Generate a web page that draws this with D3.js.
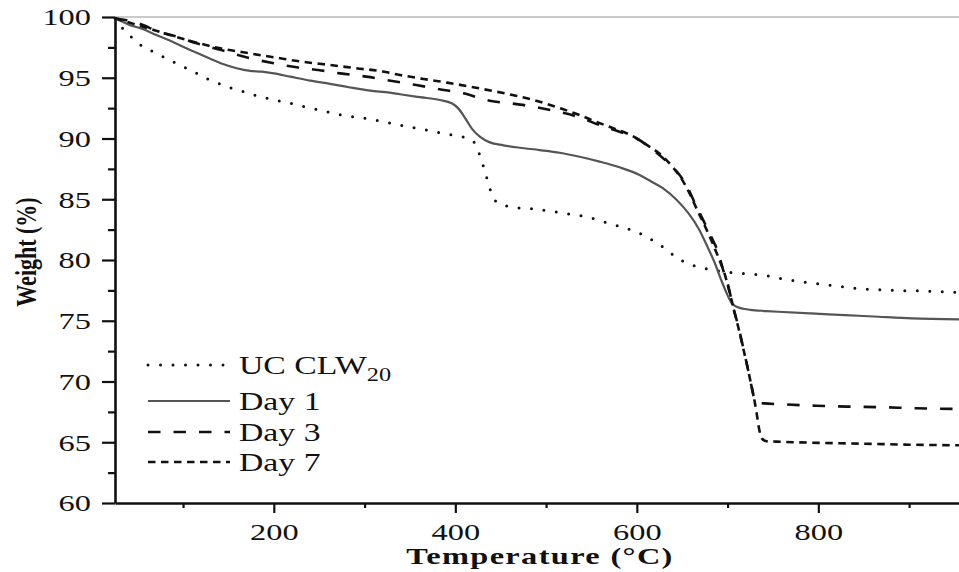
<!DOCTYPE html>
<html><head><meta charset="utf-8">
<script src="https://cdn.jsdelivr.net/npm/d3@7"></script>
<style>
body{margin:0;background:#fff}
svg{display:block}
text{font-family:"Liberation Serif","Times New Roman",serif;fill:#111}
</style>
</head><body>
<svg id="c" width="959" height="572"></svg>
<script>
// ---- data ----
const xMajorTicks = [200, 400, 600, 800];
const xMinorTicks = [100, 300, 500, 700, 900];
const yMajorTicks = [60, 65, 70, 75, 80, 85, 90, 95, 100];
const yMinorTicks = [62.5, 67.5, 72.5, 77.5, 82.5, 87.5, 92.5, 97.5];
const seriesNames = ["UC CLW", "Day 1", "Day 3", "Day 7"];
const seriesSubscripts = ["20", "", "", ""];

const ucClw20 = [[25,99.9],[33,99.1],[41,98.5],[51,97.8],[60,97.4],[71,97.0],[84,96.5],[95,96.1],[106,95.7],[117,95.3],[124,95.0],[137,94.6],[148,94.26],[161,94.0],[174,93.66],[188,93.4],[201,93.17],[218,92.9],[231,92.67],[247,92.4],[262,92.15],[277,91.9],[291,91.74],[306,91.6],[320,91.4],[334,91.17],[348,90.97],[363,90.78],[378,90.56],[392,90.34],[407,90.15],[420,89.74],[425,89.05],[429,88.1],[433,87.27],[436,86.36],[440,85.5],[446,84.72],[458,84.42],[475,84.25],[486,84.2],[500,84.06],[515,83.9],[530,83.73],[545,83.55],[559,83.25],[572,82.96],[585,82.68],[599,82.33],[611,81.9],[622,81.4],[633,80.85],[643,80.22],[655,79.78],[666,79.45],[681,79.23],[695,79.04],[710,78.92],[727,78.84],[745,78.68],[760,78.46],[774,78.3],[790,78.13],[805,78.0],[820,77.86],[836,77.7],[851,77.6],[866,77.56],[883,77.5],[899,77.47],[915,77.45],[932,77.4],[955,77.33]];

const day1 = [[25,99.9],[41,99.35],[56,99.0],[71,98.5],[86,98.05],[100,97.56],[115,97.06],[130,96.57],[144,96.13],[159,95.78],[174,95.56],[187,95.5],[200,95.36],[218,95.09],[240,94.76],[262,94.5],[284,94.2],[306,93.94],[328,93.77],[339,93.64],[361,93.4],[383,93.17],[396,92.9],[403,92.5],[411,91.66],[418,90.84],[427,90.15],[438,89.68],[453,89.44],[471,89.24],[493,89.05],[515,88.83],[537,88.5],[559,88.1],[581,87.63],[603,87.0],[615,86.5],[629,85.9],[644,84.94],[657,83.84],[668,82.6],[677,81.23],[686,79.73],[693,78.35],[699,77.26],[704,76.5],[710,76.16],[725,75.9],[743,75.8],[756,75.74],[792,75.6],[829,75.47],[866,75.33],[903,75.2],[955,75.12]];

const day3 = [[25,99.9],[51,99.48],[73,98.8],[93,98.38],[115,97.83],[141,97.3],[174,96.6],[200,96.19],[225,95.86],[249,95.64],[273,95.36],[302,95.09],[327,94.77],[357,94.4],[381,94.07],[409,93.72],[438,93.1],[460,92.9],[486,92.62],[508,92.29],[537,91.74],[559,91.1],[581,90.56],[600,90.0],[618,89.05],[633,88.1],[645,87.2],[655,86.1],[664,84.67],[673,83.3],[682,81.9],[690,80.55],[695,79.2],[701,77.8],[706,76.16],[712,74.5],[717,72.86],[721,71.5],[725,70.1],[728,69.0],[731,68.25],[740,68.2],[761,68.12],[798,68.0],[835,67.93],[872,67.88],[908,67.8],[955,67.74]];

const day7 = [[25,99.9],[56,99.2],[82,98.6],[111,97.97],[141,97.42],[174,97.0],[203,96.65],[233,96.3],[262,96.05],[291,95.78],[320,95.52],[339,95.23],[365,94.9],[391,94.6],[416,94.27],[442,93.9],[468,93.5],[493,93.03],[515,92.5],[537,91.93],[555,91.38],[574,90.84],[593,90.29],[611,89.47],[629,88.5],[640,87.6],[650,86.6],[658,85.5],[666,84.2],[675,82.8],[684,81.3],[691,80.0],[697,78.8],[702,77.4],[707,75.9],[712,74.4],[717,72.8],[721,71.5],[725,70.1],[729,68.7],[732,67.4],[735,66.0],[738,65.3],[743,65.08],[754,65.05],[800,64.95],[850,64.88],[900,64.8],[955,64.75]];

// ---- layout / styles ----
const SX = 1.35;
const svg = d3.select("#c");
const x = d3.scaleLinear().domain([25, 955]).range([115, 959]);
const y = d3.scaleLinear().domain([60, 100]).range([503, 17]);

const styles = [
  {stroke:"#111", width:3,   dash:"0,12.5", cap:"round"},
  {stroke:"#555", width:2.2, dash:null,     cap:"butt"},
  {stroke:"#111", width:2.6, dash:"12.5,13", cap:"butt"},
  {stroke:"#111", width:2.6, dash:"7.5,5.5", cap:"butt"}
];
const allSeries = [ucClw20, day1, day3, day7];

// top frame line
svg.append("line")
  .attr("x1", x(25)).attr("x2", x(955))
  .attr("y1", y(100)).attr("y2", y(100))
  .attr("stroke", "#b8b8b8").attr("stroke-width", 1.5);

const line = d3.line().x(d => x(d[0])).y(d => y(d[1])).curve(d3.curveMonotoneX);
const plot = svg.append("g");
allSeries.forEach((s, i) => {
  const st = styles[i];
  plot.append("path").datum(s)
    .attr("d", line)
    .attr("fill", "none")
    .attr("stroke", st.stroke)
    .attr("stroke-width", st.width)
    .attr("stroke-linecap", st.cap)
    .attr("stroke-linejoin", "round")
    .attr("stroke-dasharray", st.dash);
});

// axes
function styleAxis(g) {
  g.attr("font-size", null).attr("font-family", null);
  g.selectAll("path.domain").attr("stroke", "#111").attr("stroke-width", 2.6);
  g.selectAll(".tick line").attr("stroke", "#111").attr("stroke-width", 2.2);
}
const gyMinor = svg.append("g").attr("transform", "translate(115,0)")
  .call(d3.axisLeft(y).tickValues(yMinorTicks).tickSize(7).tickSizeOuter(0).tickFormat(""));
styleAxis(gyMinor);
gyMinor.select("path.domain").remove();

const gy = svg.append("g").attr("transform", "translate(115,0)")
  .call(d3.axisLeft(y).tickValues(yMajorTicks).tickSize(13).tickSizeOuter(0).tickFormat(d3.format("d")));
styleAxis(gy);
gy.selectAll(".tick text")
  .attr("x", null).attr("dy", "0.33em")
  .attr("transform", `translate(-24,0) scale(${SX},1)`)
  .attr("font-size", 24).attr("fill", "#111");

const gxMinor = svg.append("g").attr("transform", "translate(0,503)")
  .call(d3.axisBottom(x).tickValues(xMinorTicks).tickSize(5).tickSizeOuter(0).tickFormat(""));
styleAxis(gxMinor);
gxMinor.select("path.domain").remove();

const gx = svg.append("g").attr("transform", "translate(0,503)")
  .call(d3.axisBottom(x).tickValues(xMajorTicks).tickSize(10).tickSizeOuter(0).tickFormat(d3.format("d")));
styleAxis(gx);
gx.selectAll(".tick text")
  .attr("y", null).attr("dy", "0.71em")
  .attr("transform", `translate(0,20) scale(${SX},1)`)
  .attr("font-size", 24).attr("fill", "#111");

// axis titles
svg.append("text")
  .attr("transform", `translate(540,564) scale(${SX},1)`)
  .attr("text-anchor", "middle")
  .attr("font-size", 24).attr("font-weight", "bold")
  .attr("letter-spacing", 1)
  .text("Temperature (°C)");

svg.append("text")
  .attr("transform", `translate(29,252) scale(${SX},1) rotate(-90)`)
  .attr("text-anchor", "middle").attr("dy", "0.25em")
  .attr("font-size", 22).attr("font-weight", "bold")
  .text("Weight (%)");

// legend
const legendRowY = [365, 401, 432, 462];
const lg = svg.append("g");
seriesNames.forEach((name, i) => {
  const st = styles[i];
  const ly = legendRowY[i];
  lg.append("line")
    .attr("x1", 148).attr("x2", 230).attr("y1", ly).attr("y2", ly)
    .attr("stroke", st.stroke).attr("stroke-width", st.width)
    .attr("stroke-linecap", st.cap).attr("stroke-dasharray", st.dash);
  const t = lg.append("text")
    .attr("transform", `translate(239,${ly + 8.5}) scale(${SX},1)`)
    .attr("font-size", 25);
  t.append("tspan").text(name);
  if (seriesSubscripts[i]) {
    t.append("tspan").attr("font-size", 18).attr("dy", 7).text(seriesSubscripts[i]);
  }
});
</script>
</body></html>
